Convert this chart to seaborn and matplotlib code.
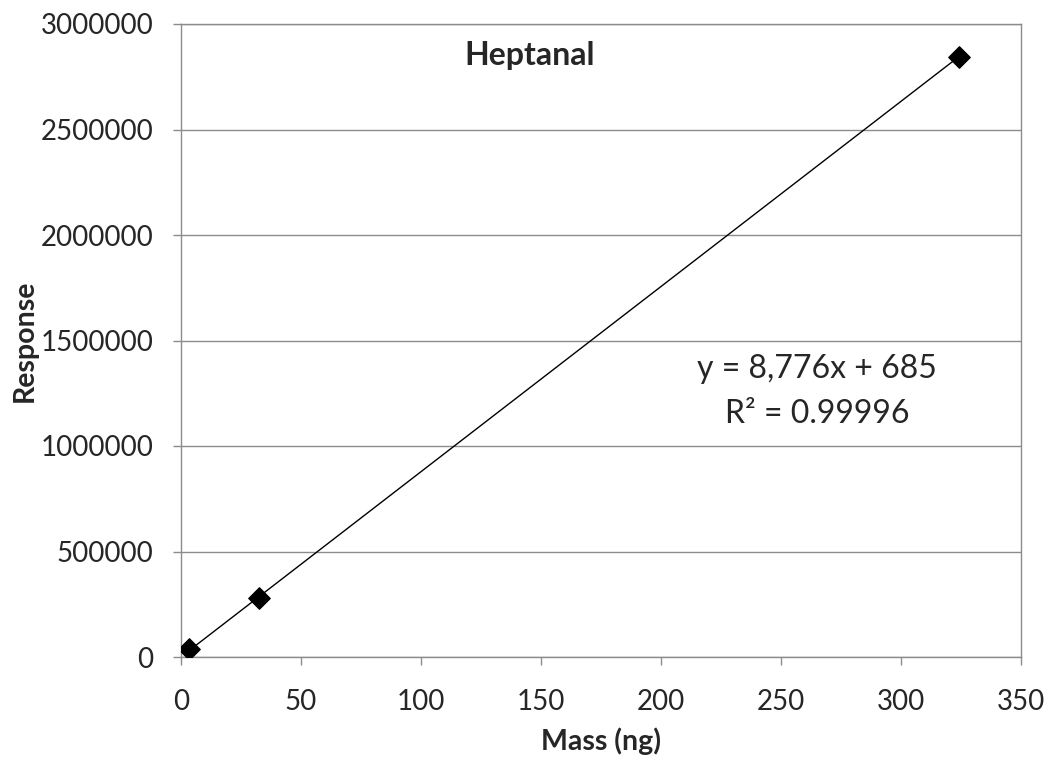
import matplotlib
matplotlib.use("Agg")
import matplotlib.pyplot as plt
import seaborn as sns
import numpy as np
import pandas as pd

mass_ng = [3.2, 32.4, 324.0]
response = [40000, 280000, 2842000]
slope = 8776
intercept = 685
x_ticks = [0, 50, 100, 150, 200, 250, 300, 350]
y_ticks = [0, 500000, 1000000, 1500000, 2000000, 2500000, 3000000]

sns.set_theme(style="white")
plt.rcParams['font.family'] = ['Lato', 'DejaVu Sans']

df = pd.DataFrame({"Mass (ng)": mass_ng, "Response": response})

fig = plt.figure(figsize=(10.52, 7.71), dpi=100)
ax = fig.add_axes([181/1052, 1 - 657/771, (1021-181)/1052, (657-24)/771])

xs = np.array([min(mass_ng), max(mass_ng)])
ax.plot(xs, slope * xs + intercept, color="black", lw=1.0, zorder=3)
sns.scatterplot(data=df, x="Mass (ng)", y="Response", marker="D", s=120,
                color="black", edgecolor="black", ax=ax, zorder=4)

ax.set_xlim(0, 350)
ax.set_ylim(0, 3000000)
ax.set_xticks(x_ticks)
ax.set_yticks(y_ticks)
ax.set_xticklabels([str(v) for v in x_ticks])
ax.set_yticklabels([str(v) for v in y_ticks])
ax.yaxis.grid(True, color="#8c8c8c", lw=1.0)
ax.xaxis.grid(False)
for s in ax.spines.values():
    s.set_color("#8c8c8c")
    s.set_linewidth(1.0)
ax.tick_params(axis="both", which="major", labelsize=20, length=6, width=1.0,
               color="#8c8c8c", direction="out", left=True, bottom=True)
ax.tick_params(axis="x", pad=17)
ax.tick_params(axis="y", pad=14)
ax.set_xlabel("Mass (ng)", fontsize=20.5, fontweight="bold")
ax.set_ylabel("Response", fontsize=20.5, fontweight="bold")
ax.xaxis.set_label_coords(0.5, -0.112)
ax.yaxis.set_label_coords(-0.171, 0.5)

ax.text(0.415, 0.935, "Heptanal", transform=ax.transAxes, fontsize=23,
        fontweight="bold", ha="center", va="baseline")
ax.text(0.757, 0.4408, "y = 8,776x + 685", transform=ax.transAxes,
        fontsize=23, ha="center", va="baseline")
ax.text(0.757, 0.3697, "R² = 0.99996", transform=ax.transAxes,
        fontsize=23, ha="center", va="baseline")

fig.savefig("out.png", dpi=100)
